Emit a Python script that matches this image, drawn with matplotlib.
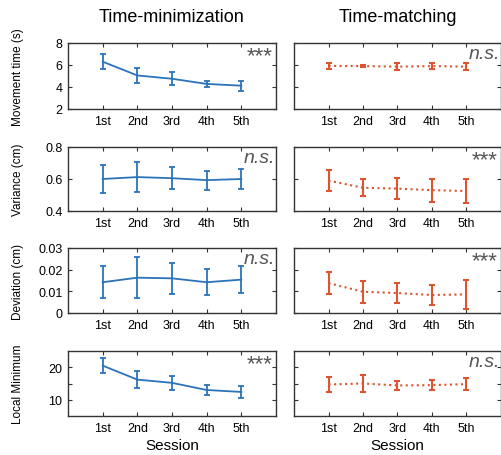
import numpy as np
import matplotlib
matplotlib.use('Agg')
import matplotlib.pyplot as plt

matplotlib.rcParams['font.family'] = ['Liberation Sans', 'DejaVu Sans']

sessions = ['1st', '2nd', '3rd', '4th', '5th']
titles = ['Time-minimization', 'Time-matching']
ylabels = ['Movement time (s)', 'Variance (cm)', 'Deviation (cm)', 'Local Minimum']

# movement time
mt_min_mean = [6.3, 5.05, 4.75, 4.28, 4.12]
mt_min_err = [0.7, 0.67, 0.6, 0.3, 0.45]
mt_match_mean = [5.92, 5.9, 5.85, 5.9, 5.85]
mt_match_err = [0.3, 0.1, 0.3, 0.3, 0.3]
# variance
var_min_mean = [0.600, 0.612, 0.605, 0.593, 0.600]
var_min_err = [0.090, 0.092, 0.070, 0.060, 0.063]
var_match_mean = [0.590, 0.545, 0.540, 0.530, 0.525]
var_match_err = [0.065, 0.052, 0.067, 0.072, 0.077]
# deviation
dev_min_mean = [0.0142, 0.0163, 0.0160, 0.0142, 0.0154]
dev_min_err = [0.0075, 0.0096, 0.0073, 0.0060, 0.0061]
dev_match_mean = [0.0138, 0.0098, 0.0092, 0.0083, 0.0086]
dev_match_err = [0.0052, 0.0050, 0.0046, 0.0044, 0.0067]
# local minimum
lm_min_mean = [20.5, 16.2, 15.2, 13.0, 12.4]
lm_min_err = [2.35, 2.7, 2.15, 1.45, 1.8]
lm_match_mean = [14.7, 15.0, 14.4, 14.5, 14.8]
lm_match_err = [2.45, 2.6, 1.5, 1.65, 1.85]

sig_min = ['***', 'n.s.', 'n.s.', '***']
sig_match = ['n.s.', '***', '***', 'n.s.']

ylims = [(2, 8), (0.4, 0.8), (0, 0.03), (5, 25)]
yticks = [[2, 4, 6, 8], [0.4, 0.6, 0.8], [0, 0.01, 0.02, 0.03], [10, 15, 20]]
yticklabels = [['2', '4', '6', '8'], ['0.4', '0.6', '0.8'],
               ['0', '0.01', '0.02', '0.03'], ['10', '', '20']]

data = [
    (mt_min_mean, mt_min_err, mt_match_mean, mt_match_err),
    (var_min_mean, var_min_err, var_match_mean, var_match_err),
    (dev_min_mean, dev_min_err, dev_match_mean, dev_match_err),
    (lm_min_mean, lm_min_err, lm_match_mean, lm_match_err),
]

blue = '#2b73b8'
red = '#dc5530'

W, H = 502, 456
fig = plt.figure(figsize=(W / 100, H / 100), dpi=100)

rows_px = [(44, 110), (148, 212), (249, 314), (352, 417)]
cols_px = [(68, 276), (294, 501)]

x = np.arange(1, 6)

for r in range(4):
    top, bot = rows_px[r]
    h = bot - top
    for c in range(2):
        l, rgt = cols_px[c]
        ax = fig.add_axes([l / W, 1 - bot / H, (rgt - l) / W, h / H])
        mean, err = (data[r][0], data[r][1]) if c == 0 else (data[r][2], data[r][3])
        if c == 0:
            ax.errorbar(x, mean, yerr=err, color=blue, lw=1.3, elinewidth=1.3,
                        capsize=2.5, capthick=1.3)
        else:
            ax.errorbar(x, mean, yerr=err, color=red, lw=1.5, ls=':',
                        elinewidth=1.5, capsize=2.5, capthick=1.5)
        ax.set_xlim(0, 6)
        ax.set_ylim(*ylims[r])
        ax.set_xticks(x)
        ax.set_xticklabels(sessions)
        ax.set_yticks(yticks[r])
        if c == 0:
            ax.set_yticklabels(yticklabels[r])
            ax.set_ylabel(ylabels[r], fontsize=8.5)
            ax.yaxis.set_label_coords(-44 / 208, 0.5)
        else:
            ax.set_yticklabels([])
        ax.tick_params(direction='in', top=True, right=True, labelsize=9,
                       length=3, width=0.8, color='#333333', pad=4)
        for s in ax.spines.values():
            s.set_color('#333333')
            s.set_linewidth(1.0)
        sig = sig_min[r] if c == 0 else sig_match[r]
        if sig == 'n.s.':
            ax.text(0.995, 1 - 15 / h, sig, transform=ax.transAxes, ha='right',
                    va='baseline', fontsize=14, style='italic', color='#555555')
        else:
            ax.text(0.985, 1 - 10 / h, sig, transform=ax.transAxes, ha='right',
                    va='center_baseline', fontsize=16, color='#555555')
        if r == 0:
            ax.set_title(titles[c], fontsize=13, pad=16)
        if r == 3:
            ax.set_xlabel('Session', fontsize=11, labelpad=3)

fig.savefig('out.png', dpi=100)
